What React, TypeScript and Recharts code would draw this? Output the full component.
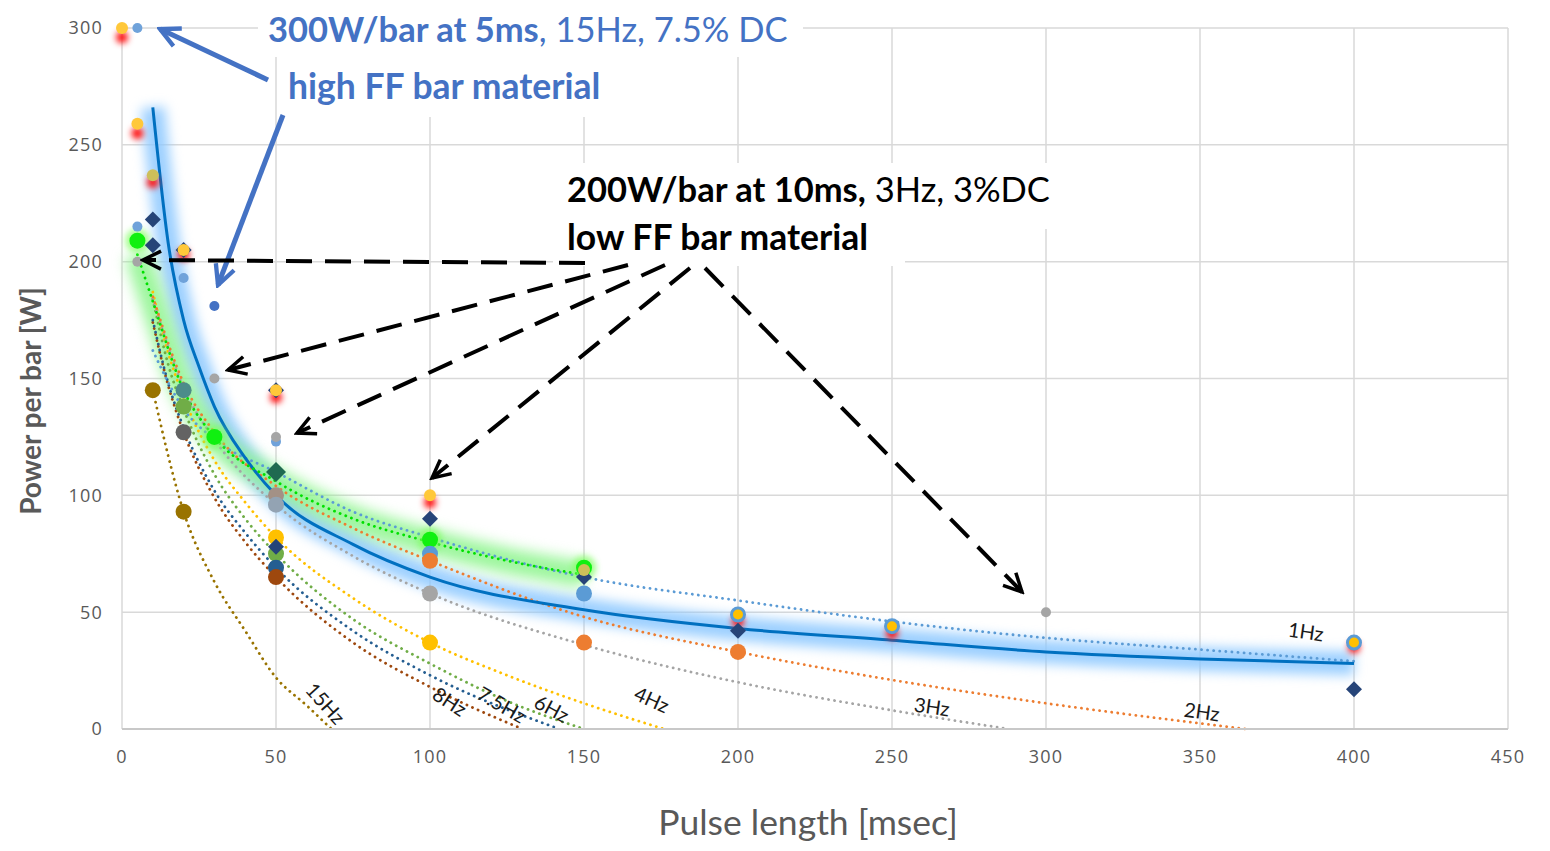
import React from 'react';
import { ComposedChart, Line, Scatter, XAxis, YAxis, CartesianGrid } from 'recharts';

const xTicks = [0, 50, 100, 150, 200, 250, 300, 350, 400, 450];
const yTicks = [0, 50, 100, 150, 200, 250, 300];

// trend lines, [pulse length ms, power W]
const hz15 = [[10, 145], [20, 93], [30, 63], [40, 42], [50, 22], [60, 10], [68, 0]];
const hz8 = [[10, 174], [15, 147], [20, 127], [30, 99], [40, 80], [50, 65], [75, 37], [100, 18], [130, 0]];
const hz75 = [[10, 175], [15, 148], [20, 129], [30, 102], [40, 84], [50, 69], [75, 42], [100, 23], [142, 0]];
const hz6 = [[10, 184], [15, 156], [20, 137], [30, 109], [40, 90], [50, 75], [75, 47], [100, 28], [125, 12], [150, 0]];
const hz4 = [[10, 187], [15, 161], [20, 142], [30, 115], [40, 97], [50, 82], [75, 56], [100, 37], [125, 23], [150, 11], [176, 0]];
const hz3 = [[10, 184], [20, 146], [30, 124], [50, 96], [75, 74], [100, 58], [150, 36], [200, 20], [250, 8], [288, 0]];
const hz2 = [[10, 185], [20, 148], [30, 127], [50, 104], [75, 86], [100, 72], [150, 48], [200, 33], [250, 21], [300, 11], [365, 0]];
const hz1 = [[10, 162], [20, 137], [30, 124], [50, 110], [75, 93], [100, 82], [150, 65], [200, 55], [250, 46], [300, 39], [350, 34], [400, 29]];
const lowFF = [[5, 203], [10, 183], [20, 145], [30, 125], [50, 106], [75, 90], [100, 80], [125, 72], [150, 66]];
const fitAll = [[10, 266], [15, 208], [20, 175], [25, 155], [30, 138], [40, 116], [50, 100], [75, 79], [100, 65], [150, 51], [200, 43], [250, 38], [300, 33], [350, 30], [400, 28]];

// measured points
const redGlow = [[0, 296], [5, 255], [10, 234], [20, 203], [50, 142], [100, 97], [200, 46], [250, 41], [400, 35]];
const yellowSmall = [[0, 300], [5, 259], [20, 205], [50, 145], [100, 100]];
const oliveSmall = [[10, 237], [150, 68]];
const lightBlueSmall = [[5, 300], [5, 215], [20, 193], [50, 123]];
const blueSmall = [[30, 181]];
const graySmall = [[5, 200], [30, 150], [50, 125], [300, 50]];
const darkYellowBig = [[10, 145], [20, 93]];
const tealBig = [[20, 145]];
const greenBig = [[20, 138], [50, 75]];
const darkGrayBig = [[20, 127]];
const brightGreenBig = [[5, 209], [30, 125], [100, 81], [150, 69]];
const mixedBig = [[50, 100]];
const grayBlueBig = [[50, 96]];
const yellowBig = [[50, 82], [100, 37]];
const blueBig = [[50, 69]];
const brownBig = [[50, 65]];
const lightBlueBig = [[100, 75], [150, 58]];
const orangeBig = [[100, 72], [150, 37], [200, 33]];
const grayBig = [[100, 58]];
const darkDiamonds = [[10, 218], [10, 207], [20, 205], [50, 145], [50, 78], [100, 90], [150, 65], [200, 42], [400, 17]];
const tealDiamond = [[50, 110]];
const ringed = [[200, 49], [250, 44], [400, 37]];

const pts = (a: number[][]) => a.map(([x, y]) => ({ x, y }));

const dotShape = (r: number, fill: string, stroke = 'none', sw = 0) => (p: any) => (
  <circle cx={p.cx} cy={p.cy} r={r} fill={fill} stroke={stroke} strokeWidth={sw} />
);
const blurShape = (r: number, fill: string, blur: number) => (p: any) => (
  <circle cx={p.cx} cy={p.cy} r={r} fill={fill} style={{ filter: `blur(${blur}px)` }} />
);
const haloShape = (r: number, fill: string) => (p: any) => (
  <g>
    <circle cx={p.cx} cy={p.cy} r={r + 4} fill="#7CFF5C" opacity={0.7} style={{ filter: 'blur(3px)' }} />
    <circle cx={p.cx} cy={p.cy} r={r} fill={fill} />
  </g>
);
const diamondShape = (s: number, fill: string) => (p: any) => (
  <path d={`M${p.cx},${p.cy - s}L${p.cx + s},${p.cy}L${p.cx},${p.cy + s}L${p.cx - s},${p.cy}Z`} fill={fill} />
);

const font = 'Lato, "Open Sans", sans-serif';
const trendLines = [
  { d: hz15, c: '#997300' },
  { d: hz8, c: '#9E480E' },
  { d: hz75, c: '#255E91' },
  { d: hz6, c: '#70AD47' },
  { d: hz4, c: '#FFC000' },
  { d: hz3, c: '#A5A5A5' },
  { d: hz2, c: '#ED7D31' },
  { d: hz1, c: '#5B9BD5' },
];

const freqLabels = [
  { t: '15Hz', x: 326, y: 703, a: 48 },
  { t: '8Hz', x: 450, y: 701, a: 33 },
  { t: '7.5Hz', x: 502, y: 704, a: 30 },
  { t: '6Hz', x: 552, y: 708, a: 28 },
  { t: '4Hz', x: 652, y: 699, a: 24 },
  { t: '3Hz', x: 932, y: 706, a: 8 },
  { t: '2Hz', x: 1202, y: 711, a: 8 },
  { t: '1Hz', x: 1306, y: 631, a: 8 },
];

function Overlay() {
  const blue = '#4472C4';
  const dash = { stroke: '#000', strokeWidth: 4, strokeDasharray: '26 13', fill: 'none', markerEnd: 'url(#ahBlack)' };
  return (
    <svg width={1542} height={843} style={{ position: 'absolute', left: -8, top: -8, pointerEvents: 'none', overflow: 'visible' }}>
      <defs>
        <marker id="ahBlue" viewBox="0 0 24 24" refX="21" refY="12" markerWidth="26" markerHeight="26" orient="auto" markerUnits="userSpaceOnUse">
          <path d="M3,3 L21,12 L3,21" fill="none" stroke={blue} strokeWidth="4" />
        </marker>
        <marker id="ahBlack" viewBox="0 0 24 24" refX="21" refY="12" markerWidth="24" markerHeight="24" orient="auto" markerUnits="userSpaceOnUse">
          <path d="M3,3 L21,12 L3,21" fill="none" stroke="#000" strokeWidth="3.5" strokeDasharray="none" />
        </marker>
      </defs>
      <rect x={258} y={0} width={545} height={57} fill="#fff" />
      <rect x={280} y={57} width={335} height={60} fill="#fff" />
      <rect x={553} y={163} width={512} height={66} fill="#fff" />
      <rect x={553} y={229} width={352} height={37} fill="#fff" />

      <text x={268} y={42} fill={blue} fontFamily={font} fontSize={34.5}>
        <tspan fontWeight="bold">300W/bar at 5ms</tspan>, 15Hz, 7.5% DC
      </text>
      <text x={288} y={99} fill={blue} fontFamily={font} fontSize={35.5} fontWeight="bold">high FF bar material</text>
      <text x={567} y={202} fill="#000" fontFamily={font} fontSize={34.5}>
        <tspan fontWeight="bold">200W/bar at 10ms,</tspan> 3Hz, 3%DC
      </text>
      <text x={567} y={250} fill="#000" fontFamily={font} fontSize={35.5} fontWeight="bold">low FF bar material</text>

      <line x1={268} y1={80} x2={160} y2={29} stroke={blue} strokeWidth={5} markerEnd="url(#ahBlue)" />
      <line x1={283} y1={115} x2={218} y2={285} stroke={blue} strokeWidth={5} markerEnd="url(#ahBlue)" />

      <line x1={585} y1={263} x2={143} y2={260} {...dash} />
      <line x1={628} y1={265} x2={228} y2={370} {...dash} />
      <line x1={665} y1={265} x2={297} y2={433} {...dash} />
      <line x1={690} y1={268} x2={432} y2={478} {...dash} />
      <line x1={705} y1={268} x2={1022} y2={592} {...dash} />

      {freqLabels.map((f) => (
        <text key={f.t} x={f.x} y={f.y} transform={`rotate(${f.a} ${f.x} ${f.y})`} textAnchor="middle" dominantBaseline="central" fontFamily={font} fontSize={20} fill="#1a1a1a">
          {f.t}
        </text>
      ))}

      <text x={30} y={401} transform="rotate(-90 30 401)" textAnchor="middle" dominantBaseline="central" fontFamily={font} fontSize={28} fontWeight="bold" fill="#595959">
        Power per bar [W]
      </text>
      <text x={808} y={835} textAnchor="middle" fontFamily={font} fontSize={35.5} fill="#595959">
        Pulse length [msec]
      </text>
    </svg>
  );
}

export default function App() {
  const tick = { fill: '#595959', fontSize: 18, fontFamily: '"Open Sans", sans-serif', letterSpacing: 1.2 };
  const big = 8;
  return (
    <div style={{ position: 'relative', width: 1534, height: 835 }}>
      <style>{`html, body { overflow: hidden; } .glow-blue { filter: blur(6px); } .glow-green { filter: blur(7px); }`}</style>
      <ComposedChart width={1534} height={835} margin={{ top: 20, right: 34, bottom: 84, left: 54 }}>
        <CartesianGrid stroke="#D9D9D9" strokeWidth={1.5} />
        <XAxis type="number" dataKey="x" domain={[0, 450]} ticks={xTicks}
          axisLine={{ stroke: '#C8C8C8', strokeWidth: 2 }} tickLine={false} tickSize={0} tickMargin={21} tick={tick} height={30} />
        <YAxis type="number" dataKey="y" domain={[0, 300]} ticks={yTicks}
          axisLine={false} tickLine={false} tickSize={0} tickMargin={19} tick={tick} width={60} />

        <Line data={pts(fitAll)} dataKey="y" type="monotone" stroke="#8CC8FF" strokeWidth={24} strokeOpacity={0.85} dot={false} isAnimationActive={false} className="glow-blue" />
        <Line data={pts(lowFF)} dataKey="y" type="monotone" stroke="#8CF58C" strokeWidth={26} strokeOpacity={0.85} dot={false} isAnimationActive={false} className="glow-green" />

        {trendLines.map((t, i) => (
          <Line key={i} data={pts(t.d)} dataKey="y" type="monotone" stroke={t.c} strokeWidth={2.8} strokeDasharray="0.1 6" strokeLinecap="round" dot={false} isAnimationActive={false} />
        ))}
        <Line data={pts(fitAll)} dataKey="y" type="monotone" stroke="#0070C0" strokeWidth={3} dot={false} isAnimationActive={false} />
        <Line data={pts(lowFF)} dataKey="y" type="monotone" stroke="#00E000" strokeWidth={2.8} strokeDasharray="0.1 6" strokeLinecap="round" dot={false} isAnimationActive={false} />

        <Scatter data={pts(redGlow)} dataKey="y" shape={blurShape(6, '#FF1010', 3)} isAnimationActive={false} />
        <Scatter data={pts(darkYellowBig)} dataKey="y" shape={dotShape(big, '#997300')} isAnimationActive={false} />
        <Scatter data={pts(tealBig)} dataKey="y" shape={dotShape(big, '#4C8C8A')} isAnimationActive={false} />
        <Scatter data={pts(greenBig)} dataKey="y" shape={dotShape(big, '#70AD47')} isAnimationActive={false} />
        <Scatter data={pts(darkGrayBig)} dataKey="y" shape={dotShape(big, '#636363')} isAnimationActive={false} />
        <Scatter data={pts(brightGreenBig)} dataKey="y" shape={haloShape(big, '#10F010')} isAnimationActive={false} />
        <Scatter data={pts(mixedBig)} dataKey="y" shape={dotShape(big, '#A39186')} isAnimationActive={false} />
        <Scatter data={pts(grayBlueBig)} dataKey="y" shape={dotShape(big, '#93A3B3')} isAnimationActive={false} />
        <Scatter data={pts(yellowBig)} dataKey="y" shape={dotShape(big, '#FFC000')} isAnimationActive={false} />
        <Scatter data={pts(blueBig)} dataKey="y" shape={dotShape(big, '#255E91')} isAnimationActive={false} />
        <Scatter data={pts(brownBig)} dataKey="y" shape={dotShape(big, '#9E480E')} isAnimationActive={false} />
        <Scatter data={pts(lightBlueBig)} dataKey="y" shape={dotShape(big, '#5B9BD5')} isAnimationActive={false} />
        <Scatter data={pts(orangeBig)} dataKey="y" shape={dotShape(big, '#ED7D31')} isAnimationActive={false} />
        <Scatter data={pts(grayBig)} dataKey="y" shape={dotShape(big, '#A5A5A5')} isAnimationActive={false} />
        <Scatter data={pts(tealDiamond)} dataKey="y" shape={diamondShape(10, '#1F6A50')} isAnimationActive={false} />
        <Scatter data={pts(darkDiamonds)} dataKey="y" shape={diamondShape(8, '#264478')} isAnimationActive={false} />
        <Scatter data={pts(lightBlueSmall)} dataKey="y" shape={dotShape(5, '#6FA2DA')} isAnimationActive={false} />
        <Scatter data={pts(blueSmall)} dataKey="y" shape={dotShape(5, '#4472C4')} isAnimationActive={false} />
        <Scatter data={pts(graySmall)} dataKey="y" shape={dotShape(5, '#A5A5A5')} isAnimationActive={false} />
        <Scatter data={pts(yellowSmall)} dataKey="y" shape={dotShape(6, '#FFC83A')} isAnimationActive={false} />
        <Scatter data={pts(oliveSmall)} dataKey="y" shape={dotShape(6, '#CDBF5A')} isAnimationActive={false} />
        <Scatter data={pts(ringed)} dataKey="y" shape={dotShape(6.5, '#FFC000', '#5B9BD5', 3)} isAnimationActive={false} />
      </ComposedChart>
      <Overlay />
    </div>
  );
}
